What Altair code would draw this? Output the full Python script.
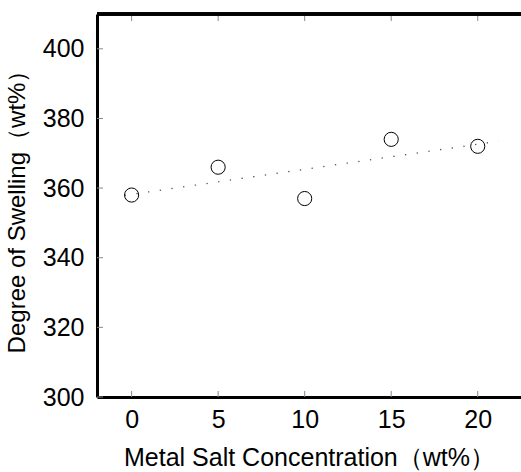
import altair as alt
import pandas as pd

conc = [0, 5, 10, 15, 20]
swelling = [358, 366, 357, 374, 372]
x_ticks = [0, 5, 10, 15, 20]
y_ticks = [300, 320, 340, 360, 380, 400]

W, H = 424, 383
FONT = "Liberation Sans"

pts = pd.DataFrame({"x": conc, "y": swelling})
xt = pd.DataFrame({"x": x_ticks})
yt = pd.DataFrame({"y": y_ticks})

xscale = alt.Scale(domain=[-2, 22.5], nice=False, zero=False)
yscale = alt.Scale(domain=[300, 410], nice=False, zero=False)

xaxis = alt.Axis(values=x_ticks, ticks=False, grid=False, domainColor="black",
                 domainWidth=3, labelFontSize=25, labelPadding=10, labelColor="black",
                 titleFontSize=25, titlePadding=13, titleColor="black",
                 titleFontWeight="normal", labelFont=FONT, titleFont=FONT)
yaxis = alt.Axis(values=y_ticks, ticks=False, grid=False, domainColor="black",
                 domainWidth=3, labelFontSize=25, labelPadding=13, labelColor="black",
                 titleFontSize=24, titlePadding=13, titleColor="black",
                 titleFontWeight="normal", labelFont=FONT, titleFont=FONT)

XT = "Metal Salt Concentration（wt%）"
YT = "Degree of Swelling（wt%）"

points = alt.Chart(pts).mark_point(shape="circle", filled=False, size=200,
                                   color="black", strokeWidth=1, opacity=1).encode(
    x=alt.X("x:Q", scale=xscale, axis=xaxis, title=XT),
    y=alt.Y("y:Q", scale=yscale, axis=yaxis, title=YT),
)

trend = alt.Chart(pts).transform_regression(
    "x", "y", extent=[-0.4, 21.2]
).mark_line(color="#555", strokeWidth=1.3, strokeDash=[1.3, 10.5]).encode(
    x=alt.X("x:Q", scale=xscale, axis=xaxis, title=XT),
    y=alt.Y("y:Q", scale=yscale, axis=yaxis, title=YT),
)

ytick_marks = alt.Chart(yt).mark_rule(color="#888", strokeWidth=1).encode(
    y=alt.Y("y:Q", scale=yscale, axis=yaxis, title=YT),
    x=alt.value(0), x2=alt.value(6),
)
xtick_bottom = alt.Chart(xt).mark_rule(color="#888", strokeWidth=1).encode(
    x=alt.X("x:Q", scale=xscale, axis=xaxis, title=XT),
    y=alt.value(H), y2=alt.value(H - 6),
)
xtick_top = alt.Chart(xt).mark_rule(color="#888", strokeWidth=1).encode(
    x=alt.X("x:Q", scale=xscale, axis=xaxis, title=XT),
    y=alt.value(0), y2=alt.value(7),
)
top_line = alt.Chart(xt).mark_rule(color="black", strokeWidth=3).encode(
    x=alt.value(0), x2=alt.value(W), y=alt.value(0),
)

chart = alt.layer(trend, points, ytick_marks, xtick_bottom, xtick_top, top_line).properties(
    width=W, height=H,
    autosize=alt.AutoSizeParams(type="none"),
    padding={"left": 97, "top": 14, "right": 0, "bottom": 75},
).configure_view(stroke=None).configure(background="white")

chart.save("out.html", embed_options={"renderer": "svg", "actions": False})
